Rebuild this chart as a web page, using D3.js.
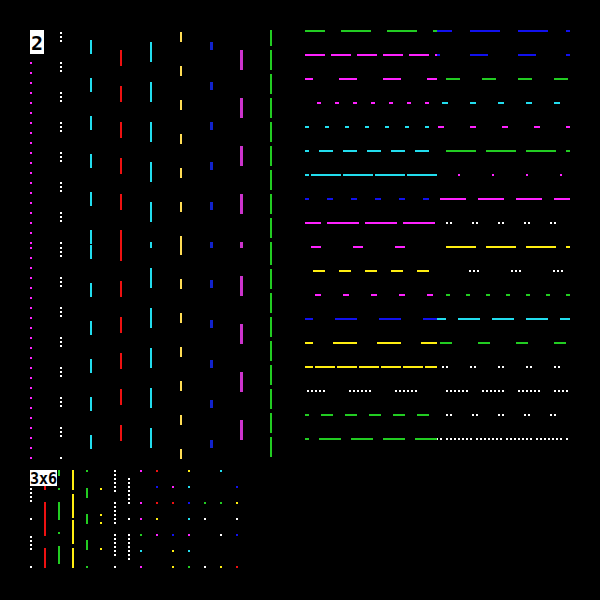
<!DOCTYPE html>
<html>
<head>
<meta charset="utf-8">
<script src="https://cdn.jsdelivr.net/npm/d3@7"></script>
<style>
body { margin: 0; background: #000; }
</style>
</head>
<body>
<div id="chart"></div>
<script>
var C = {
	g: "#22cc22", b: "#1111ee", m: "#ff22ff", c: "#22ddee", r: "#ee1111",
	y: "#ffee11", w: "#ffffff", yl: "#ffdd55", mv: "#cc33cc", bv: "#1122cc"
};

/* vertical dashed lines, left block: colour, dash pattern, phase of top and bottom half */
var vColors = ["m", "w", "c", "r", "c", "yl", "bv", "mv", "g"];
var vDash = [[2,8], [2,2,2,2,2,20], [14,24], [16,20], [20,20], [10,24], [8,32], [20,28], [20,4]];
var vPhaseTop = [8, 28, 28, 16, 28, 32, 28, 28, 4];
var vPhaseBot = [8, 28, 0, 0, 17, 0, 5, 17, 0];
var vWidth = [2, 2, 2, 2, 2, 2, 3, 3, 2];

/* horizontal rows, right block: left half and right half */
var hColorsL = ["g","m","m","m","c","c","c","b","m","m","y","m","b","y","y","w","g","g"];
var hDashL = [[30,16],[20,6],[18,26],[4,14],[4,16],[14,10],[30,2],[6,18],[32,6],[10,32],
	[12,14],[6,22],[22,22],[24,20],[20,2],[2,2,2,2,2,2,2,2,2,2,2,24],[12,12],[22,10]];
var hPhaseL = [10,0,10,6,0,10,26,2,16,36,18,18,14,16,12,2,8,18];
var hColorsR = ["b","b","g","c","m","g","m","m","w","y","w","g","c","g","w","w","w","w"];
var hDashR = [[30,18],[18,30],[14,22],[6,22],[6,26],[30,10],[2,32],[26,12],[2,2,2,20],[30,10],
	[2,2,2,2,2,32],[4,16],[22,12],[12,26],[2,2,2,22],[2,2,2,2,2,2,2,2,2,2,2,14],[2,2,2,20],
	[2,2,2,2,2,2,2,2,2,2,2,2,2,4]];
var hPhaseR = [15,15,27,23,31,31,13,35,17,31,10,11,13,35,23,27,17,21];

/* bottom block: columns of dashes */
var bColors = ["w","r","g","y","g","y","w","w"];
var bDash = [[2,16,2,2,2,2,2,2,2,16], [34,12], [18,12,2,12], [24,2,24,4], [10,16],
	[2,24,2,6,2,24], [2,2,2,2,2,2,2,2,2,2,2,10], [2,2,2,2,2,2,2,2,2,2,2,2,2,14,2,14]];
var bPhase = [0, 14, 12, 30, 8, 42, 0, 48];

/* bottom block: grid of dots, one string per row */
var dotRows = [
	"mr.y.c.",
	".bmc..b",
	"mrrbggy",
	"my.cw.w",
	"gmbm.wb",
	"c.yc...",
	"m.ygwyr"
];

var labels = ["2", "3x6"];

var svg = d3.select("#chart").append("svg")
	.attr("width", 600)
	.attr("height", 600)
	.style("background", "#000")
	.style("display", "block");

/* left block */
var xv = d3.scaleLinear().domain([0, 8]).range([31, 271]);
var yvTop = [30, 245], yvBot = [245, 460];
var gv = svg.append("g").attr("shape-rendering", "crispEdges");
vColors.forEach(function(col, i) {
	[[yvTop, vPhaseTop[i]], [yvBot, vPhaseBot[i]]].forEach(function(s) {
		var x = xv(i) + (vWidth[i] == 3 ? 0.5 : 0);
		gv.append("line")
			.attr("x1", x).attr("x2", x)
			.attr("y1", s[0][0]).attr("y2", s[0][1])
			.attr("stroke", C[col])
			.attr("stroke-width", vWidth[i])
			.attr("stroke-dasharray", vDash[i].join(","))
			.attr("stroke-dashoffset", s[1]);
	});
});

/* right block */
var yh = d3.scaleLinear().domain([0, 17]).range([31, 439]);
var xhL = [305, 437], xhR = [437, 570];
var gh = svg.append("g").attr("shape-rendering", "crispEdges");
hColorsL.forEach(function(col, i) {
	gh.append("line")
		.attr("x1", xhL[0]).attr("x2", xhL[1])
		.attr("y1", yh(i)).attr("y2", yh(i))
		.attr("stroke", C[col]).attr("stroke-width", 2)
		.attr("stroke-dasharray", hDashL[i].join(","))
		.attr("stroke-dashoffset", hPhaseL[i]);
	gh.append("line")
		.attr("x1", xhR[0]).attr("x2", xhR[1])
		.attr("y1", yh(i)).attr("y2", yh(i))
		.attr("stroke", C[hColorsR[i]]).attr("stroke-width", 2)
		.attr("stroke-dasharray", hDashR[i].join(","))
		.attr("stroke-dashoffset", hPhaseR[i]);
});

/* bottom block */
var xb = d3.scaleLinear().domain([0, 7]).range([31, 129]);
var gb = svg.append("g").attr("shape-rendering", "crispEdges");
bColors.forEach(function(col, i) {
	gb.append("line")
		.attr("x1", xb(i)).attr("x2", xb(i))
		.attr("y1", 470).attr("y2", 568)
		.attr("stroke", C[col]).attr("stroke-width", 2)
		.attr("stroke-dasharray", bDash[i].join(","))
		.attr("stroke-dashoffset", bPhase[i]);
});

var xd = d3.scaleLinear().domain([0, 6]).range([140, 236]);
var yd = d3.scaleLinear().domain([0, 6]).range([470, 566]);
dotRows.forEach(function(row, r) {
	row.split("").forEach(function(ch, c) {
		if (ch == ".") return;
		gb.append("rect")
			.attr("x", xd(c)).attr("y", yd(r))
			.attr("width", 2).attr("height", 2)
			.attr("fill", C[ch]);
	});
});

/* labels */
var lab = [[30, 30, 14, 24, 20], [30, 470, 27, 16, 15]];
labels.forEach(function(t, i) {
	var l = lab[i];
	svg.append("rect").attr("x", l[0]).attr("y", l[1]).attr("width", l[2]).attr("height", l[3]).attr("fill", "#fff");
	svg.append("text")
		.attr("x", l[0] + l[2] / 2).attr("y", l[1] + l[3] / 2 + 1)
		.attr("text-anchor", "middle").attr("dominant-baseline", "central")
		.attr("font-family", "DejaVu Sans Mono").attr("font-weight", "bold")
		.attr("font-size", l[4]).attr("fill", "#000")
		.text(t);
});
</script>
</body>
</html>
